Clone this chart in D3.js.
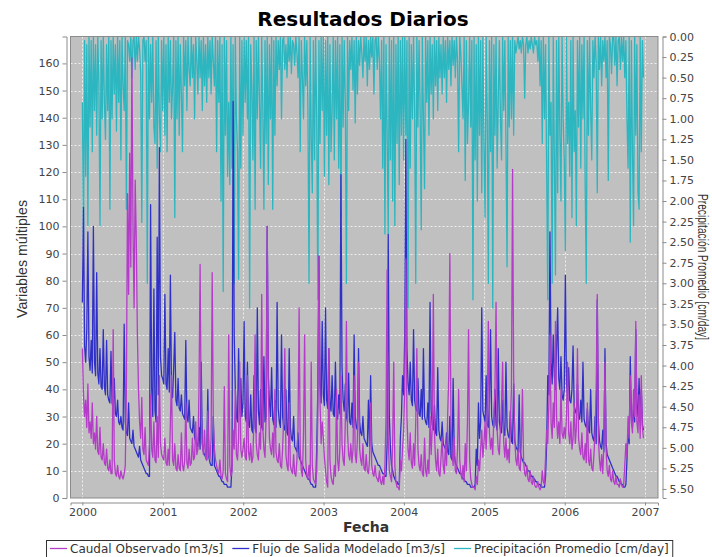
<!DOCTYPE html>
<html>
<head>
<meta charset="utf-8">
<script src="https://cdn.jsdelivr.net/npm/d3@7"></script>
<style>
  html, body { margin: 0; padding: 0; background: #fff; }
  svg { display: block; }
</style>
</head>
<body>
<svg id="chart" width="712" height="557"></svg>
<script>
// Series diarias muestreadas cada 5 días desde el 1 de enero de 2000
const fechaInicio = "2000-01-01";
const pasoDias = 5;

const etiquetasAnios = ["2000", "2001", "2002", "2003", "2004", "2005", "2006", "2007"];
const ticksIzquierda = [0, 10, 20, 30, 40, 50, 60, 70, 80, 90, 100, 110, 120, 130, 140, 150, 160];
const ticksDerecha = [0, 0.25, 0.5, 0.75, 1, 1.25, 1.5, 1.75, 2, 2.25, 2.5, 2.75, 3, 3.25, 3.5, 3.75, 4, 4.25, 4.5, 4.75, 5, 5.25, 5.5];

// Caudal Observado [m3/s]
const caudalObservado = [
  // 2000
  55,38,30,36,26,42,24,28,22,35, 20,24,18,30,17,16,26,15,14,20, 13,12,18,11,10,14,9,9,62,14,
  9,8,12,8,7,10,8,7,9,12, 40,112,75,127,85,162,100,70,117,95, 60,40,28,22,37,18,16,26,14,13,
  12,20,38,18,15,28,14,13,30,15, 45,20,16,
  // 2001
  15,14,22,13,12,18,12,28,45,14, 12,20,11,10,16,11,10,24,12,10, 14,35,13,11,18,12,13,22,14,15,
  28,16,18,40,86,30,20,16,25,15, 14,32,16,14,22,83,28,18,14,12, 10,9,14,8,7,10,41,9,7,6,
  60,12,8,10,25,18,40,16,14,22, 50,18,15,
  // 2002
  18,22,15,14,45,17,14,20,13,15, 30,60,20,16,14,24,18,75,26,18, 15,30,100,40,22,18,16,24,15,40,
  17,14,13,20,12,11,18,30,55,16, 12,10,35,12,10,9,16,9,8,14, 26,70,18,10,8,24,60,14,8,7,
  12,6,50,12,7,6,5,10,30,89, 35,20,28,
  // 2003
  22,15,10,6,4,55,14,8,6,5, 12,8,40,14,10,18,45,20,14,12, 28,65,24,16,14,20,13,18,45,16,
  13,22,50,18,14,12,20,11,10,16, 10,9,14,35,12,9,8,12,8,7, 6,10,6,5,8,5,12,30,84,22,
  10,8,6,20,50,12,6,4,4,3, 14,10,18,
  // 2004
  25,40,88,30,18,14,24,13,11,20, 12,28,55,18,12,10,16,9,8,22, 10,8,14,9,30,16,26,75,24,14,
  10,18,9,8,15,22,12,9,20,12, 30,45,90,28,16,12,22,10,9,18, 40,14,9,7,12,6,20,10,28,62,
  14,7,5,4,4,3,8,5,14,10, 18,25,15,
  // 2005
  20,28,18,30,65,24,18,22,16,30, 40,72,25,18,16,26,35,50,20,15, 22,14,18,13,28,40,121,45,22,14,
  12,18,11,10,20,40,14,9,8,12, 7,6,10,6,5,8,5,4,4,6, 4,3,4,10,6,5,15,25,20,35,
  60,28,22,35,26,65,30,22,28,20, 40,24,22,
  // 2006
  26,22,30,50,24,20,28,18,22,35, 20,26,55,22,18,16,24,15,14,20, 13,35,14,12,18,11,10,16,24,40,
  75,22,14,10,16,9,20,50,18,10, 8,12,7,6,10,6,5,8,5,5, 4,7,5,4,5,12,20,15,30,22,
  45,28,24,40,30,65,28,24,38,22, 45,26,22
];

// Flujo de Salida Modelado [m3/s]
const flujoModelado = [
  // 2000
  72,107,56,50,62,98,52,47,58,46, 100,50,45,83,46,42,55,41,40,62, 41,38,58,38,36,35,54,35,33,44,
  31,30,36,28,27,30,26,25,64,28, 24,23,35,22,21,20,25,19,18,17, 16,15,19,14,13,12,11,10,9,9,
  8,8,108,40,30,77,32,28,96,38, 129,52,45,
  // 2001
  44,42,75,42,40,55,39,82,40,37, 48,61,36,34,44,33,32,38,31,30, 29,58,30,28,36,26,25,24,30,22,
  21,20,19,26,18,50,20,17,16,15, 14,40,15,13,12,12,30,12,11,10, 9,8,8,7,6,6,5,5,5,4,
  4,4,4,12,146,60,40,30,28,55, 32,44,30,
  // 2002
  35,65,30,28,50,27,26,38,25,24, 45,26,24,70,32,27,40,26,25,52, 28,30,100,45,35,30,48,29,27,36,
  26,72,33,28,26,60,30,26,25,40, 24,23,55,26,22,21,30,19,18,17, 24,15,14,13,12,11,10,9,8,7,
  7,6,5,5,4,4,4,18,40,89, 42,35,65,
  // 2003
  38,34,70,36,33,55,35,32,45,31, 30,50,30,29,38,31,119,48,36,32, 42,30,28,46,28,27,35,26,60,30,
  26,25,55,28,24,23,30,22,21,20, 19,36,19,45,20,17,16,15,14,13, 12,12,11,10,9,9,8,8,20,97,
  30,18,12,10,8,7,6,6,5,5, 22,30,45,
  // 2004
  38,60,132,55,42,38,50,36,34,62, 36,33,32,44,31,30,40,29,55,30, 28,27,35,26,72,32,27,25,34,24,
  23,48,25,22,21,28,20,19,18,24, 17,16,30,15,14,44,16,13,12,11, 10,9,9,8,7,7,6,6,5,5,
  5,4,4,4,4,5,18,12,35,22, 28,70,32,
  // 2005
  30,28,45,27,26,35,62,30,27,26, 40,27,25,55,28,25,24,36,24,23, 50,26,23,22,32,21,20,42,21,19,
  18,17,38,17,15,14,13,13,12,11, 10,10,9,8,8,7,7,6,6,5, 5,5,4,4,4,4,8,20,45,38,
  98,50,42,60,45,40,55,70,44,40, 52,38,36,
  // 2006
  40,82,42,38,48,36,35,40,56,34, 32,31,42,30,29,36,28,50,29,27, 26,33,25,24,40,24,22,21,30,20,
  73,28,21,19,18,25,17,55,20,16, 15,14,13,12,11,10,9,8,8,7, 6,6,5,5,4,4,5,14,25,20,
  52,30,26,35,28,62,34,30,44,28, 40,27,25
];

// Precipitación Promedio [cm/day]
const precipitacion = [
  // 2000
  0.8,2.5,0.05,1.7,0.1,2.3,0,1.1,0.05,1.4, 0,0.9,0.1,1.2,0,0.6,2.3,0.05,1.0,0,
  0.8,1.25,0.1,0.9,0,2.1,0.05,1.0,0,0.7, 0.1,1.15,0,0.8,0.05,1.5,0,0.6,0.9,0,
  2.1,0.05,0.1,0.3,0,0.5,0.05,0,0.4,0, 0.3,0,0.15,0.45,2.26,0.05,0,0.3,0.05,3.0,
  0,1.0,0.1,0.8,0,1.1,1.3,0.05,1.6,0, 1.0,1.4,0.05,
  // 2001
  0.9,0,1.2,0.1,1.4,0,0.8,0.05,1.0,0.6, 0,2.2,0.05,1.0,0,1.2,0.1,0.7,1.4,0,
  0.6,0.05,0.9,0,0.4,0.6,0,0.5,0.1,1.0, 0,0.3,0.7,0,0.5,0.05,0.9,0,0.6,0.1,
  0.8,0,0.5,0.05,0.7,0,0.3,0.6,0,1.4, 0.05,0.8,0,2.0,0.1,3.1,0,1.2,0.05,1.7,
  0.8,1.8,0,1.6,0.1,3.0,0,1.0,1.4,2.95, 0,1.6,0.05,
  // 2002
  1.2,0,0.8,0.05,1.0,0,3.3,0.1,0.6,1.5, 0,2.1,0.05,1.0,0,0.8,1.6,0,0.9,2.1,
  0.05,1.3,0,1.8,0.1,1.0,0,2.1,0.05,1.2, 0,0.6,0.05,0.4,0,1.0,0.05,0,0.4,0.1,
  0.5,0,0.3,0,0.45,0.05,0.1,0.35,0,0.2, 0.5,0,1.4,0.05,0.5,1.0,0,0.6,0.05,0.9,
  3.0,0,1.2,1.9,0.05,1.5,0,1.0,3.2,0.05, 1.3,0,0.9,
  // 2003
  0,1.7,0.05,1.2,0,1.8,0.1,1.4,0.9,0, 1.5,0.05,1.0,0,1.6,0.1,2.2,0,1.1,0.05,
  0.8,3.0,0,0.9,0.05,0.4,0,0.65,0.05,1.05, 0,0.7,0.05,0.35,0,0.2,0.5,0,0.3,0,
  0.6,0.05,0.4,0,0.25,0,0.7,0.05,0,0.4, 0,0.3,1.0,0.05,1.6,0,2.4,0.1,1.2,2.4,
  0,1.5,0.05,2.0,0,2.3,0.1,1.3,0,1.8, 0.05,1.2,0,
  // 2004
  1.5,0,1.2,0.05,3.3,0,1.6,0.1,1.0,0, 0.9,3.0,0,1.1,0.05,0.9,2.35,0,1.0,1.85,
  0,0.8,0.05,1.2,0,0.7,0.1,1.0,0,0.6, 0.05,0.9,0,0.5,0.1,0.7,0,0.5,0.05,0.8,
  0,0.4,0.05,0.6,0,0.35,0.05,0.5,0,0.3, 1.4,0,0.2,0.6,1.0,0,1.75,0.05,1.3,0.8,
  0,1.1,0.05,3.2,0,1.5,0.1,2.0,0,1.2, 0.05,1.9,0,
  // 2005
  1.3,2.2,0,1.0,3.0,0.05,1.4,0,3.3,0.1, 1.2,0,1.6,0.8,0.05,1.0,1.5,0,0.9,0.05,
  1.3,2.8,0,1.1,0.05,1.0,0,1.2,0.05,0.2, 0.1,0,0.15,0.05,0.2,0,0.1,0.75,0.1,0,
  0.2,0.05,0.15,0,0.1,0.2,0,0.1,0.05,0.3, 0,0.6,0.05,1.3,0,1.0,0.1,1.6,3.2,0,
  1.2,0.8,3.0,0,1.5,2.9,0.05,1.9,0,1.2, 2.0,0,1.0,
  // 2006
  1.5,2.6,0,1.3,0.8,1.7,0.05,2.2,0,1.4, 0.9,2.3,0.05,1.1,0,1.6,0.1,1.0,0,1.8,
  3.0,0.05,1.2,0,0.9,1.5,0.05,0.5,0,0.3, 1.9,0,0.4,0,0.6,0.05,0.3,0,0.5,0.05,
  1.75,0,0.1,0.45,0,0,0.35,0,0.6,0.05, 0,0.4,0,0.3,0,0.5,0.05,1.0,1.6,0,
  2.5,0.05,1.4,2.3,0,1.2,0.1,1.9,2.1,0, 1.4,0.05,0.5
];

const nombresSeries = ["Caudal Observado [m3/s]", "Flujo de Salida Modelado [m3/s]", "Precipitación Promedio [cm/day]"];
const coloresSeries = ["#b43cc8", "#3030c8", "#2cb6c0"];

// ---------------------------------------------------------------
const svg = d3.select("#chart");
const area = { left: 70.5, right: 658, top: 36.5, bottom: 498 };

const inicio = d3.timeParse("%Y-%m-%d")(fechaInicio);
const fechas = caudalObservado.map((_, i) => d3.timeDay.offset(inicio, i * pasoDias));

const x = d3.scaleTime()
  .domain([new Date(1999, 10, 8), new Date(2007, 2, 1)])
  .range([area.left, area.right]);
const y = d3.scaleLinear().domain([0, 169.9]).range([area.bottom, area.top]);
const yPrecip = d3.scaleLinear().domain([0, 5.61]).range([area.top, area.bottom]);

svg.append("rect").attr("width", 712).attr("height", 557).attr("fill", "#fff");

// fondo del área de trazado
svg.append("rect")
  .attr("x", area.left).attr("y", area.top)
  .attr("width", area.right - area.left).attr("height", area.bottom - area.top)
  .attr("fill", "#c0c0c0");

// rejilla
const rejilla = svg.append("g").attr("stroke", "#ffffff").attr("stroke-opacity", 0.75)
  .attr("stroke-dasharray", "2,2").attr("stroke-width", 1);
rejilla.selectAll("line.h").data(ticksIzquierda.slice(1)).join("line")
  .attr("x1", area.left).attr("x2", area.right)
  .attr("y1", d => Math.round(y(d)) + 0.5).attr("y2", d => Math.round(y(d)) + 0.5);
rejilla.selectAll("line.v").data(etiquetasAnios).join("line")
  .attr("y1", area.top).attr("y2", area.bottom)
  .attr("x1", d => Math.round(x(new Date(+d, 0, 1))) + 0.5)
  .attr("x2", d => Math.round(x(new Date(+d, 0, 1))) + 0.5);

svg.append("clipPath").attr("id", "recorte").append("rect")
  .attr("x", area.left).attr("y", area.top)
  .attr("width", area.right - area.left).attr("height", area.bottom - area.top);

const trazos = svg.append("g").attr("clip-path", "url(#recorte)").attr("fill", "none")
  .attr("stroke-width", 1.3).attr("stroke-linejoin", "round");

const lineaPrecip = d3.line().x((d, i) => x(fechas[i])).y(d => yPrecip(d));
const lineaCaudal = d3.line().x((d, i) => x(fechas[i])).y(d => y(d));

trazos.append("path").datum(precipitacion).attr("d", lineaPrecip).attr("stroke", coloresSeries[2]);
trazos.append("path").datum(flujoModelado).attr("d", lineaCaudal).attr("stroke", coloresSeries[1]);
trazos.append("path").datum(caudalObservado).attr("d", lineaCaudal).attr("stroke", coloresSeries[0]);

// borde del área
svg.append("rect")
  .attr("x", area.left).attr("y", area.top)
  .attr("width", area.right - area.left).attr("height", area.bottom - area.top)
  .attr("fill", "none").attr("stroke", "#8c8c8c");

// ejes
function estiloEje(g) {
  g.select(".domain").attr("stroke", "#8c8c8c");
  g.selectAll(".tick line").attr("stroke", "#8c8c8c");
  g.selectAll(".tick text").attr("fill", "#444").attr("font-family", "DejaVu Sans, sans-serif").attr("font-size", 11);
}

svg.append("g").attr("transform", "translate(66.5,0)")
  .call(d3.axisLeft(y).tickValues(ticksIzquierda).tickSizeOuter(0).tickSize(4).tickPadding(3))
  .call(estiloEje);

svg.append("g").attr("transform", "translate(0,502.5)")
  .call(d3.axisBottom(x).tickValues(etiquetasAnios.map(a => new Date(+a, 0, 1)))
    .tickFormat(d3.timeFormat("%Y")).tickSizeOuter(0).tickSize(3).tickPadding(3))
  .call(estiloEje);

svg.append("g").attr("transform", "translate(662.5,0)")
  .call(d3.axisRight(yPrecip).tickValues(ticksDerecha).tickFormat(d3.format(".2f"))
    .tickSizeOuter(0).tickSize(4).tickPadding(3))
  .call(estiloEje);

// títulos
svg.append("text").attr("x", 363).attr("y", 26).attr("text-anchor", "middle")
  .attr("font-family", "DejaVu Sans, sans-serif").attr("font-weight", "bold").attr("font-size", 20)
  .attr("fill", "#000").text("Resultados Diarios");

svg.append("text").attr("x", 366).attr("y", 532).attr("text-anchor", "middle")
  .attr("font-family", "DejaVu Sans, sans-serif").attr("font-weight", "bold").attr("font-size", 14)
  .attr("fill", "#333").text("Fecha");

svg.append("text").attr("transform", "translate(27,259) rotate(-90)").attr("text-anchor", "middle")
  .attr("font-family", "Liberation Sans, Arial, sans-serif").attr("font-size", 15)
  .attr("textLength", 118).attr("lengthAdjust", "spacingAndGlyphs")
  .attr("fill", "#333").text("Variables múltiples");

svg.append("text").attr("transform", "translate(698,267) rotate(90)").attr("text-anchor", "middle")
  .attr("font-family", "Liberation Sans, Arial, sans-serif").attr("font-size", 14)
  .attr("textLength", 146).attr("lengthAdjust", "spacingAndGlyphs")
  .attr("fill", "#333").text("Precipitación Promedio [cm/day]");

// leyenda
const leyenda = svg.append("g");
const cajaLeyenda = leyenda.append("rect").attr("y", 540.5).attr("height", 17)
  .attr("fill", "#fff").attr("stroke", "#333");
let cursor = 50;
nombresSeries.forEach((nombre, k) => {
  leyenda.append("line").attr("x1", cursor).attr("x2", cursor + 17)
    .attr("y1", 548.5).attr("y2", 548.5).attr("stroke", coloresSeries[k]).attr("stroke-width", 1.3);
  const t = leyenda.append("text").attr("x", cursor + 20).attr("y", 553)
    .attr("font-family", "DejaVu Sans, sans-serif").attr("font-size", 12).attr("fill", "#333").text(nombre);
  cursor += 20 + t.node().getComputedTextLength() + 9;
});
cajaLeyenda.attr("x", 46.5).attr("width", cursor - 46.5 - 5);
</script>
</body>
</html>
